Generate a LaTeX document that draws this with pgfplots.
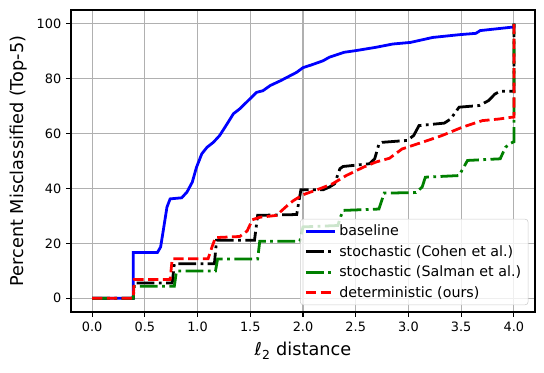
\documentclass[border=0pt]{standalone}
\usepackage{pgfplots}
\pgfplotsset{compat=1.18}
\usepackage{fontspec}
\setmainfont{DejaVu Sans}

\definecolor{gridgray}{HTML}{B0B0B0}
\definecolor{legedge}{HTML}{CCCCCC}
\definecolor{mplgreen}{HTML}{008000}

\begin{document}
\begin{tikzpicture}
\path[use as bounding box] (-0.71in,-0.60in) rectangle (4.73in,3.12in);
\begin{axis}[
    scale only axis,
    width=4.64in, height=3.02in,
    xmin=-0.2, xmax=4.2,
    ymin=-5, ymax=105,
    xtick={0,0.5,1,1.5,2,2.5,3,3.5,4},
    ytick={0,20,40,60,80,100},
    xticklabel style={/pgf/number format/.cd, fixed, fixed zerofill, precision=1},
    /pgf/number format/assume math mode=true,
    ticklabel style={font=\fontsize{9.3}{11}\selectfont},
    tick pos=left,
    tick align=outside,
    major tick length=3.5bp,
    tick style={black, line width=0.8bp},
    axis line style={line width=0.8bp},
    grid=major,
    major grid style={gridgray, line width=0.8bp},
    xlabel={\textit{ℓ}\textsubscript{2} distance},
    ylabel={Percent Misclassified (Top-5)},
    label style={font=\fontsize{12.8}{15}\selectfont},
    xlabel style={yshift=-1bp},
    legend cell align=left,
    legend style={at={(0.9856,0.023)}, anchor=south east,
        draw=legedge, fill=white, fill opacity=0.8, text opacity=1,
        rounded corners=2bp, font=\fontsize{10.3}{12}\selectfont,
        row sep=1.5bp, inner xsep=3bp, inner ysep=2bp},
    legend image code/.code={\draw[#1, line width=2bp] (0bp,0bp) -- (21bp,0bp);},
]
% baseline
\addplot[blue, line width=2bp] coordinates {
    (0,0) (0.39,0) (0.39,16.7) (0.62,16.7) (0.65,18.7) (0.68,25.9)
    (0.71,33.2) (0.74,36.2) (0.85,36.6) (0.90,38.7) (0.95,42.3) (0.99,47.7)
    (1.04,52.6) (1.09,55) (1.15,56.8) (1.21,59.3) (1.28,63.5) (1.34,67.2)
    (1.40,69) (1.48,72) (1.56,75) (1.62,75.6) (1.69,77.5) (1.79,79.3)
    (1.94,82.3) (2.0,84) (2.08,85) (2.19,86.5) (2.25,87.8) (2.39,89.6)
    (2.50,90.2) (2.69,91.4) (2.85,92.6) (3.02,93.2) (3.23,95) (3.48,96)
    (3.64,96.5) (3.68,97.5) (3.97,98.7) (4.0,98.8) (4.0,100)
};
% Cohen et al.
\addplot[black, line width=2bp, dash pattern=on 12.8bp off 3.2bp on 2bp off 3.2bp] coordinates {
    (0,0) (0.39,0) (0.40,5.6) (0.76,5.6) (0.78,12.6) (1.16,12.6)
    (1.18,21.1) (1.54,21.1) (1.57,30.2) (1.94,30.5) (1.98,39.5) (2.19,39.5)
    (2.25,40.5) (2.30,41.7) (2.35,47.2) (2.38,48) (2.63,49) (2.68,50.8)
    (2.72,56.2) (2.75,56.8) (2.99,57.5) (3.05,59.3) (3.10,62.9) (3.34,63.8)
    (3.40,65.3) (3.48,69.6) (3.67,70.2) (3.76,72) (3.82,74.4) (3.87,75.4)
    (4.0,75.4) (4.0,100)
};
% Salman et al.
\addplot[mplgreen, line width=2bp, dash pattern=on 12.8bp off 3.2bp on 2bp off 3.2bp] coordinates {
    (0,0) (0.39,0) (0.40,4.4) (0.78,4.4) (0.80,9.9) (1.17,9.9)
    (1.19,14.3) (1.57,14.3) (1.59,20.8) (1.97,20.8) (2.0,26) (2.33,26.5)
    (2.36,30) (2.38,32) (2.72,32.5) (2.77,38.3) (3.07,38.5) (3.13,40.5)
    (3.16,44.1) (3.48,44.7) (3.56,50.2) (3.87,50.8) (3.92,55) (3.97,56.5)
    (4.0,57) (4.0,100)
};
% deterministic
\addplot[red, line width=2bp, dash pattern=on 7.4bp off 3.2bp] coordinates {
    (0,0) (0.39,0) (0.40,6.8) (0.74,6.8) (0.76,14.4) (1.10,14.4)
    (1.14,19) (1.17,22.1) (1.40,22.5) (1.47,24.5) (1.52,28.6) (1.59,29.5)
    (1.75,30.2) (1.80,32) (1.87,34.4) (1.91,35.6) (2.0,37.7) (2.16,39.9)
    (2.28,41.7) (2.41,44.7) (2.57,47.7) (2.69,49.6) (2.82,51) (2.94,54.4)
    (3.13,56.8) (3.32,59.3) (3.51,62.3) (3.70,64.7) (3.86,65.3) (3.97,65.9)
    (4.0,66) (4.0,100)
};
\legend{baseline, stochastic (Cohen et al.), stochastic (Salman et al.), deterministic (ours)}
\end{axis}
\end{tikzpicture}
\end{document}
